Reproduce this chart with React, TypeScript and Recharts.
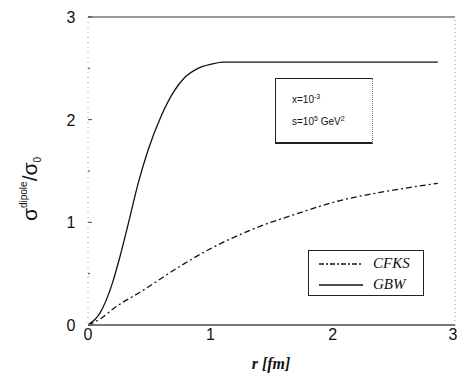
import { LineChart, Line, XAxis, YAxis, ReferenceLine } from "recharts";

// GBW saturation model (r in fm, sigma/sigma0)
const gbwR = [0, 0.1, 0.2, 0.26, 0.33, 0.41, 0.49, 0.6, 0.7, 0.79, 0.9, 1.01, 1.1, 1.5, 2.0, 2.5, 2.86];
const gbwV = [0, 0.12, 0.41, 0.66, 0.99, 1.38, 1.7, 2.04, 2.27, 2.41, 2.5, 2.54, 2.56, 2.56, 2.56, 2.56, 2.56];

// CFKS
const cfksR = [0, 0.1, 0.22, 0.44, 0.71, 0.98, 1.34, 1.75, 2.02, 2.43, 2.86];
const cfksV = [0, 0.06, 0.17, 0.33, 0.54, 0.73, 0.93, 1.1, 1.2, 1.3, 1.38];

const xTicks = [0, 1, 2, 3];
const yTicks = [0, 0.5, 1, 1.5, 2, 2.5, 3];

const gbw = gbwR.map((r, i) => ({ r, v: gbwV[i] }));
const cfks = cfksR.map((r, i) => ({ r, v: cfksV[i] }));

const sans = "'Liberation Sans', Arial, sans-serif";
const serif = "'Liberation Serif', 'Times New Roman', serif";

function YTick(props: any) {
  const { x, y, payload } = props;
  const major = Number.isInteger(payload.value);
  return (
    <g>
      <line x1={x} y1={y} x2={x + (major ? 4 : 2)} y2={y} stroke="#444" strokeWidth={1} />
      {major && (
        <text x={x - 17} y={y + 6} textAnchor="middle" fontSize={16} fontFamily={sans} fill="#111">
          {payload.value}
        </text>
      )}
    </g>
  );
}

function XTick(props: any) {
  const { x, y, payload } = props;
  return (
    <text x={x} y={y + 7} textAnchor="middle" fontSize={16} fontFamily={sans} fill="#111">
      {payload.value}
    </text>
  );
}

function LegendRow({ dash, label }: { dash?: string; label: string }) {
  return (
    <div style={{ display: "flex", alignItems: "center", height: 21 }}>
      <svg width={54} height={6} style={{ marginLeft: 10 }}>
        <line x1={0} y1={3} x2={44} y2={3} stroke="#111" strokeWidth={1.4} strokeDasharray={dash} />
      </svg>
      <span style={{ fontFamily: serif, fontStyle: "italic", fontSize: 15, color: "#111" }}>{label}</span>
    </div>
  );
}

export default function App() {
  return (
    <div style={{ position: "absolute", left: 0, top: 0, width: 457, height: 374, background: "#fff" }}>
      <LineChart width={457} height={374} margin={{ top: 17, right: 2, bottom: 0, left: 0 }}>
        <XAxis type="number" dataKey="r" domain={[0, 3]} ticks={xTicks} height={49}
          stroke="#777" strokeWidth={2} tickLine={false} tick={<XTick />} allowDataOverflow />
        <YAxis type="number" dataKey="v" domain={[0, 3]} ticks={yTicks} width={88}
          stroke="#999" strokeDasharray="1 4" tickSize={0} tickMargin={0} tick={<YTick />} />
        <ReferenceLine y={3} stroke="#333" strokeWidth={1} />
        <ReferenceLine x={3} stroke="#999" strokeDasharray="1 3" />
        <Line data={cfks} dataKey="v" type="monotone" stroke="#111" strokeWidth={1.3}
          strokeDasharray="6 3 2 3" dot={false} isAnimationActive={false} />
        <Line data={gbw} dataKey="v" type="monotone" stroke="#111" strokeWidth={1.3}
          dot={false} isAnimationActive={false} />
      </LineChart>
      <svg width={457} height={374} style={{ position: "absolute", left: 0, top: 0, pointerEvents: "none" }}>
        <text transform="translate(37,189) rotate(-90)" textAnchor="middle" fontFamily={sans} fill="#111">
          <tspan fontSize={21}>σ</tspan>
          <tspan fontSize={10} dy={-10}>dipole</tspan>
          <tspan fontSize={21} dy={10}>/σ</tspan>
          <tspan fontSize={10} dy={4}>0</tspan>
        </text>
        <text x={271} y={369} textAnchor="middle" fontFamily={serif} fontStyle="italic" fontWeight="bold" fontSize={16} fill="#111">
          r [fm]
        </text>
      </svg>
      <div style={{ position: "absolute", left: 308, top: 250, width: 116, height: 46, boxSizing: "border-box",
        border: "1px solid #222", paddingTop: 2, background: "#fff" }}>
        <LegendRow dash="5 2 2 2" label="CFKS" />
        <LegendRow label="GBW" />
      </div>
      <div style={{ position: "absolute", left: 275, top: 78, width: 98, height: 66, boxSizing: "border-box",
        borderLeft: "1.5px solid #222", borderTop: "1px solid #222", borderBottom: "2px solid #222", borderRight: "1px dotted #777",
        fontFamily: sans, fontSize: 10, color: "#111", paddingLeft: 16, paddingTop: 8, lineHeight: "19px" }}>
        <div>x=10<sup style={{ fontSize: 7 }}>-3</sup></div>
        <div>s=10<sup style={{ fontSize: 7 }}>5</sup> GeV<sup style={{ fontSize: 7 }}>2</sup></div>
      </div>
    </div>
  );
}
